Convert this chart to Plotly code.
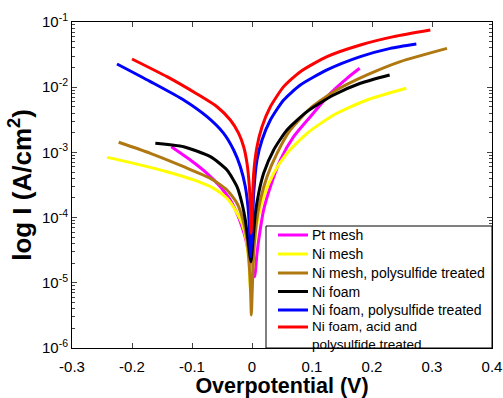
import plotly.graph_objects as go

# Overpotential (V) and current density (A/cm^2)
pt_v = [-0.1344, -0.1028, -0.075, -0.0528, -0.0361, -0.025, -0.0167, -0.0100, -0.0056, 0.0, 0.0044, 0.0083, 0.0128, 0.0194, 0.0306, 0.0472, 0.0694, 0.0972, 0.1306, 0.1583, 0.1794]
pt_i = [1.22e-3, 7.64e-4, 4.78e-4, 2.98e-4, 1.86e-4, 1.16e-4, 7.26e-5, 4.53e-5, 2.83e-5, 1.77e-5, 1.24e-5, 2.83e-5, 5.74e-5, 1.31e-4, 2.98e-4, 7.64e-4, 1.74e-3, 3.53e-3, 8.05e-3, 1.37e-2, 1.95e-2]

nimesh_v = [-0.2417, -0.1972, -0.1417, -0.0972, -0.0639, -0.0417, -0.0278, -0.0167, -0.0094, -0.0056, -0.0033, -0.0022, 0.0006, 0.0039, 0.0094, 0.0194, 0.0361, 0.0583, 0.0917, 0.1361, 0.1917, 0.2572]
nimesh_i = [8.39e-4, 6.79e-4, 5.06e-4, 3.78e-4, 2.81e-4, 1.98e-4, 1.31e-4, 8.17e-5, 4.53e-5, 2.24e-5, 9.82e-6, 6.92e-6, 1.40e-5, 3.58e-5, 9.18e-5, 2.09e-4, 4.78e-4, 9.68e-4, 1.96e-3, 3.75e-3, 6.37e-3, 9.62e-3]

nimeshps_v = [-0.2222, -0.1694, -0.1139, -0.0694, -0.0417, -0.025, -0.015, -0.0083, -0.0044, -0.0022, -0.0011, 0.0006, 0.0028, 0.0072, 0.0139, 0.025, 0.0417, 0.0639, 0.0972, 0.1361, 0.1917, 0.2472, 0.325]
nimeshps_i = [1.43e-3, 9.68e-4, 6.04e-4, 4.00e-4, 2.65e-4, 1.66e-4, 9.18e-5, 4.53e-5, 1.77e-5, 6.89e-6, 3.21e-6, 8.73e-6, 2.83e-5, 8.17e-5, 1.86e-4, 4.25e-4, 9.68e-4, 2.21e-3, 4.74e-3, 8.53e-3, 1.54e-2, 2.47e-2, 3.94e-2]

nifoam_v = [-0.1611, -0.1139, -0.0694, -0.0417, -0.025, -0.0167, -0.0111, -0.0067, -0.0017, 0.0017, 0.0056, 0.0111, 0.0194, 0.0361, 0.0583, 0.0917, 0.1361, 0.1806, 0.2294]
nifoam_i = [1.38e-3, 1.22e-3, 8.61e-4, 5.37e-4, 2.98e-4, 1.66e-4, 9.18e-5, 4.53e-5, 2.11e-5, 4.53e-5, 1.16e-4, 2.36e-4, 4.78e-4, 1.09e-3, 2.21e-3, 4.22e-3, 7.59e-3, 1.15e-2, 1.54e-2]

nifoamps_v = [-0.225, -0.1694, -0.1139, -0.075, -0.0472, -0.0306, -0.0194, -0.0111, -0.0067, -0.0044, -0.0022, 0.0006, 0.0028, 0.0083, 0.0167, 0.0306, 0.0528, 0.0806, 0.125, 0.1806, 0.2306, 0.2739]
nifoamps_i = [2.27e-2, 1.22e-2, 6.37e-3, 3.53e-3, 1.96e-3, 1.09e-3, 6.04e-4, 2.98e-4, 1.47e-4, 7.26e-5, 2.51e-5, 7.26e-5, 2.36e-4, 7.64e-4, 1.55e-3, 3.14e-3, 6.37e-3, 1.08e-2, 1.84e-2, 2.94e-2, 3.94e-2, 4.60e-2]

nifoamacid_v = [-0.2, -0.1417, -0.0917, -0.0583, -0.0361, -0.0222, -0.0139, -0.0083, -0.0044, -0.0028, -0.0017, 0.0006, 0.0028, 0.0083, 0.0167, 0.0306, 0.0528, 0.0806, 0.125, 0.1806, 0.2361, 0.2972]
nifoamacid_i = [2.71e-2, 1.45e-2, 7.87e-3, 5.02e-3, 3.14e-3, 1.96e-3, 1.22e-3, 6.79e-4, 2.98e-4, 1.47e-4, 5.75e-5, 1.47e-4, 4.78e-4, 1.22e-3, 2.48e-3, 5.02e-3, 1.02e-2, 1.73e-2, 2.94e-2, 4.44e-2, 5.96e-2, 7.53e-2]

names = ["Pt mesh", "Ni mesh", "Ni mesh, polysulfide treated", "Ni foam",
         "Ni foam, polysulfide treated", "Ni foam, acid and<br>polysulfide treated"]
colors = ["#ff00ff", "#ffff00", "#b07810", "#000000", "#0000ff", "#ff0000"]
series = [(pt_v, pt_i), (nimesh_v, nimesh_i), (nimeshps_v, nimeshps_i),
          (nifoam_v, nifoam_i), (nifoamps_v, nifoamps_i), (nifoamacid_v, nifoamacid_i)]

x_ticks = [-0.3, -0.2, -0.1, 0, 0.1, 0.2, 0.3, 0.4]
x_ticktext = ["-0.3", "-0.2", "-0.1", "0", "0.1", "0.2", "0.3", "0.4"]
y_exps = [-6, -5, -4, -3, -2, -1]

W, H = 503, 398
ML, MR, MT, MB = 72, 11, 22, 50
PW, PH = W - ML - MR, H - MT - MB

fig = go.Figure()
for (v, i), n, c in zip(series, names, colors):
    fig.add_trace(go.Scatter(x=v, y=i, mode="lines", name=n.replace("<br>", " "), showlegend=False,
                             line=dict(color=c, width=3, shape="spline", smoothing=0.6)))


# Legend box drawn in paper coordinates (pixel offsets from plot area)
def px(xp):
    return (xp - ML) / PW


def py(yp):
    return (H - MB - yp) / PH


shapes = [dict(type="rect", xref="paper", yref="paper", x0=px(266), x1=1, y0=0, y1=py(226),
               line=dict(color="black", width=1), fillcolor="white", layer="above")]
annotations = []
row_y = [235, 254, 273, 291.5, 310, 327]
text_y = [235, 254, 273, 291.5, 310, 335]
for k, c in enumerate(colors):
    shapes.append(dict(type="line", xref="paper", yref="paper", x0=px(278), x1=px(308),
                       y0=py(row_y[k]), y1=py(row_y[k]), line=dict(color=c, width=3), layer="above"))
    annotations.append(dict(text=names[k], xref="paper", yref="paper", x=px(310), y=py(text_y[k]),
                            xanchor="left", yanchor="middle", align="left", showarrow=False,
                            font=dict(size=14 if k < 5 else 13.5, color="black")))

font = "Liberation Sans, Arial, sans-serif"
fig.update_layout(
    width=W, height=H,
    margin=dict(l=ML, r=MR, t=MT, b=MB),
    paper_bgcolor="white", plot_bgcolor="white",
    font=dict(family=font, size=15, color="black"),
    shapes=shapes, annotations=annotations,
    xaxis=dict(range=[-0.3, 0.4], tickvals=x_ticks, ticktext=x_ticktext,
               ticks="inside", ticklen=5, showline=True, linecolor="black",
               linewidth=1, mirror="allticks", showgrid=False, zeroline=False,
               automargin=False, ticklabelstandoff=5,
               title=dict(text="<b>Overpotential (V)</b>", font=dict(size=21.5), standoff=6)),
    yaxis=dict(type="log", range=[-6, -1],
               tickvals=[10.0 ** e for e in y_exps],
               ticktext=["10<sup>%d</sup>" % e for e in y_exps],
               ticks="inside", ticklen=5, showline=True, linecolor="black",
               linewidth=1, mirror="allticks", showgrid=False, zeroline=False,
               automargin=False,
               minor=dict(tickvals=[m * 10.0 ** e for e in y_exps[:-1] for m in range(2, 10)],
                          ticks="inside", ticklen=3, showgrid=False),
               title=dict(text="<b>log I (A/cm<sup>2</sup>)</b>", font=dict(size=26), standoff=2)),
)

fig.write_html("out.html", config={"displayModeBar": False},
               post_script="document.body.style.margin='0px';")
